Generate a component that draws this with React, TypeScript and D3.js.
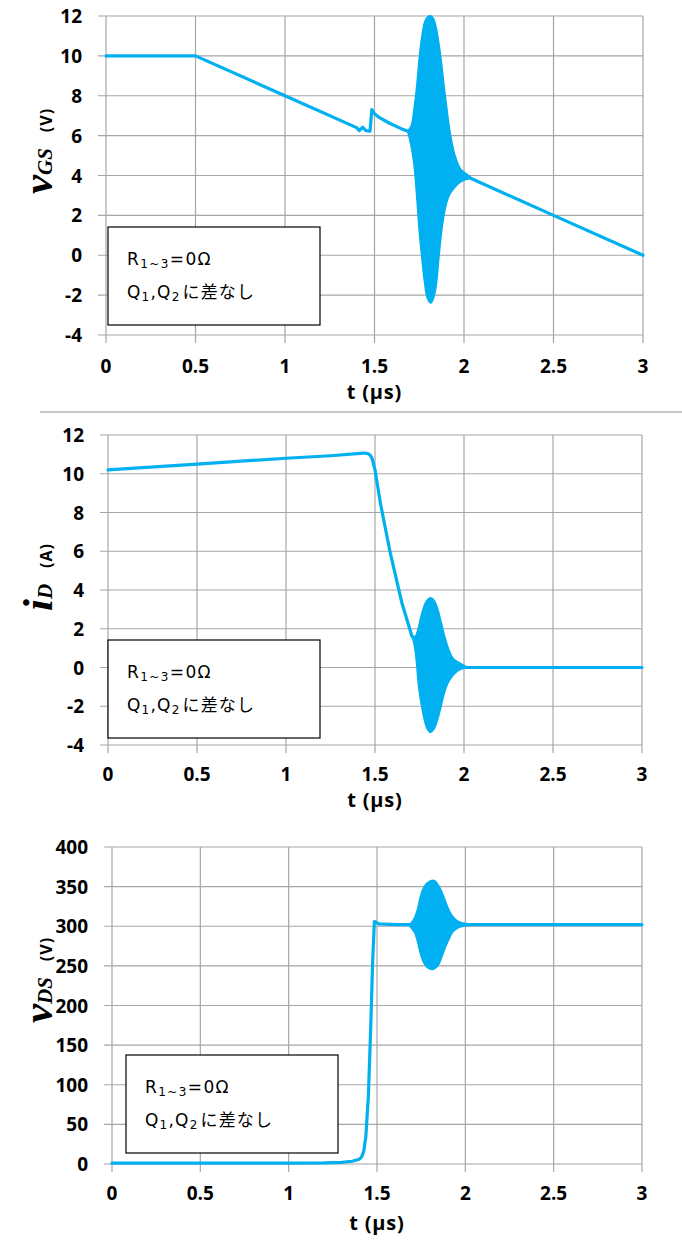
import React from "react";
import * as d3 from "d3";

const BLUE = "#00B0F0";
const GRID = "#A6A6A6";

const T_TICKS = [0, 0.5, 1, 1.5, 2, 2.5, 3];

// vGS panel
const GS_TICKS = [-4, -2, 0, 2, 4, 6, 8, 10, 12];
const GS_T = [0, 0.5, 1.0, 1.4, 1.415, 1.434, 1.452, 1.475, 1.485, 1.5, 1.528, 1.584, 1.649, 1.686, 2.04, 2.5, 3.0];
const GS_V = [10, 10, 8, 6.4, 6.25, 6.42, 6.25, 6.22, 7.3, 7.1, 6.9, 6.62, 6.35, 6.22, 3.85, 2.0, 0];
const GS_BURST_T = [1.686, 1.705, 1.72, 1.737, 1.75, 1.765, 1.78, 1.795, 1.815, 1.83, 1.845, 1.86, 1.875, 1.89, 1.905, 1.92, 1.935, 1.95, 1.97, 1.99, 2.01, 2.04];
const GS_BURST_HI = [6.25, 6.5, 7.3, 8.6, 9.9, 11.0, 11.7, 11.95, 12.0, 11.85, 11.4, 10.6, 9.6, 8.4, 7.3, 6.3, 5.55, 5.0, 4.5, 4.2, 4.0, 3.85];
const GS_BURST_LO = [6.2, 5.45, 4.6, 2.8, 1.2, -0.2, -1.4, -2.15, -2.4, -2.15, -1.5, -0.1, 1.2, 2.1, 2.7, 3.05, 3.25, 3.42, 3.6, 3.72, 3.8, 3.85];

// iD panel
const ID_TICKS = [-4, -2, 0, 2, 4, 6, 8, 10, 12];
const ID_T = [0, 0.5, 1.0, 1.25, 1.417, 1.44, 1.46, 1.474, 1.485, 1.5, 1.53, 1.586, 1.652, 1.708, 2.01, 3.0];
const ID_V = [10.2, 10.5, 10.8, 10.93, 11.05, 11.07, 11.04, 10.95, 10.75, 10.2, 8.5, 5.9, 3.3, 1.6, 0, 0];
const ID_BURST_T = [1.708, 1.72, 1.732, 1.745, 1.76, 1.775, 1.79, 1.81, 1.83, 1.85, 1.87, 1.89, 1.91, 1.93, 1.95, 1.97, 1.99, 2.01];
const ID_BURST_HI = [1.6, 1.55, 1.7, 2.1, 2.7, 3.15, 3.45, 3.6, 3.5, 3.1, 2.4, 1.65, 1.05, 0.6, 0.35, 0.18, 0.08, 0.03];
const ID_BURST_LO = [1.6, 1.2, 0.35, -1.0, -1.9, -2.6, -3.1, -3.35, -3.2, -2.75, -2.05, -1.3, -0.8, -0.5, -0.3, -0.15, -0.07, -0.03];

// vDS panel
const DS_TICKS = [0, 50, 100, 150, 200, 250, 300, 350, 400];
const DS_T = [0, 0.5, 1.0, 1.2, 1.3, 1.36, 1.4, 1.413, 1.425, 1.437, 1.451, 1.464, 1.475, 1.485, 1.51, 1.61, 1.686, 2.06, 3.0];
const DS_V = [1, 1, 1, 1.3, 2, 3.5, 6, 9, 16, 35, 85, 169, 253, 306, 303, 302, 302, 302, 302];
const DS_BURST_T = [1.686, 1.7, 1.715, 1.73, 1.745, 1.76, 1.78, 1.8, 1.815, 1.83, 1.85, 1.87, 1.89, 1.91, 1.93, 1.96, 1.99, 2.02, 2.06];
const DS_BURST_HI = [302, 306, 312, 322, 337, 347, 354, 357, 358, 357, 351, 342, 330, 319, 312, 306, 304, 303, 302];
const DS_BURST_LO = [300, 296, 291, 280, 266, 256, 249, 246, 245.5, 247, 252, 263, 275, 285, 293, 298, 300, 301, 301.5];

const TICK_FONT = "Open Sans, DejaVu Sans, sans-serif";
const SERIF = "Liberation Serif, serif";
const LEGEND_FONT = "DejaVu Sans, Noto Sans CJK JP, sans-serif";

type PanelProps = {
  left: number;
  right: number;
  top: number;
  bottom: number;
  yDomain: [number, number];
  yTicks: number[];
  t: number[];
  v: number[];
  burstT: number[];
  burstHi: number[];
  burstLo: number[];
  legend: { x: number; y: number };
  tickDy: number;
  titleDy: number;
  label: React.ReactNode;
};

function Legend({ x, y }: { x: number; y: number }) {
  return (
    <g transform={`translate(${x},${y})`}>
      <rect width={212} height={98} fill="#fff" stroke="#000" strokeWidth={1.2} />
      <text x={19} y={38} fontFamily={LEGEND_FONT} fontSize={17} letterSpacing={1.4} fill="#000">
        R<tspan fontSize={12} dy={3}>1~3</tspan>
        <tspan dy={-3}>=0Ω</tspan>
      </text>
      <text x={19} y={71} fontFamily={LEGEND_FONT} fontSize={17} letterSpacing={1.2} fill="#000">
        Q<tspan fontSize={12} dy={3}>1</tspan>
        <tspan dy={-3}>,Q</tspan>
        <tspan fontSize={12} dy={3}>2</tspan>
        <tspan dy={-3} dx={2}>に差なし</tspan>
      </text>
    </g>
  );
}

function Panel(p: PanelProps) {
  const x = d3.scaleLinear().domain([0, 3]).range([p.left, p.right]);
  const y = d3.scaleLinear().domain(p.yDomain).range([p.bottom, p.top]);
  const pts = p.t.map((t, i) => [t, p.v[i]] as [number, number]);
  const line = d3
    .line<[number, number]>()
    .x((d) => x(d[0]))
    .y((d) => y(d[1]));
  const burst = p.burstT.map((t, i) => ({ t, hi: p.burstHi[i], lo: p.burstLo[i] }));
  const area = d3
    .area<{ t: number; hi: number; lo: number }>()
    .x((d) => x(d.t))
    .y0((d) => y(d.lo))
    .y1((d) => y(d.hi))
    .curve(d3.curveCatmullRom);

  return (
    <g>
      {/* grid */}
      {T_TICKS.map((t) => (
        <line key={"v" + t} x1={x(t)} x2={x(t)} y1={p.top} y2={p.bottom + 8} stroke={GRID} strokeWidth={1.2} />
      ))}
      {p.yTicks.map((v) => (
        <line key={"h" + v} x1={p.left - 8} x2={p.right} y1={y(v)} y2={y(v)} stroke={GRID} strokeWidth={1.2} />
      ))}
      {/* tick labels */}
      {p.yTicks.map((v) => (
        <text
          key={"yl" + v}
          x={p.left - 24}
          y={y(v) + 7}
          textAnchor="end"
          fontFamily={TICK_FONT}
          fontWeight="bold"
          fontSize={19}
          fill="#000"
        >
          {v}
        </text>
      ))}
      {T_TICKS.map((t) => (
        <text
          key={"xl" + t}
          x={x(t)}
          y={p.bottom + p.tickDy}
          textAnchor="middle"
          fontFamily={TICK_FONT}
          fontWeight="bold"
          fontSize={19}
          fill="#000"
        >
          {t}
        </text>
      ))}
      <text
        x={x(1.5)}
        y={p.bottom + p.titleDy}
        textAnchor="middle"
        fontFamily={TICK_FONT}
        fontWeight="bold"
        fontSize={20}
        letterSpacing={0.8}
        fill="#000"
      >
        t (μs)
      </text>
      {p.label}
      <Legend x={p.legend.x} y={p.legend.y} />
      {/* data */}
      <path d={line(pts) ?? ""} fill="none" stroke={BLUE} strokeWidth={3.2} strokeLinejoin="round" strokeLinecap="round" />
      <path d={area(burst) ?? ""} fill={BLUE} stroke={BLUE} strokeWidth={1.5} />
    </g>
  );
}

function YLabel({ x, y, main, sub, unit }: { x: number; y: number; main: string; sub: string; unit: string }) {
  return (
    <text transform={`translate(${x},${y}) rotate(-90)`} textAnchor="middle" fill="#000">
      <tspan fontFamily={SERIF} fontStyle="italic" fontWeight="bold" fontSize={43}>
        {main}
      </tspan>
      <tspan fontFamily={SERIF} fontStyle="italic" fontWeight="bold" fontSize={21}>
        {sub}
      </tspan>
      <tspan fontFamily={TICK_FONT} fontWeight="bold" fontSize={16} dx={16} letterSpacing={1}>
        {unit}
      </tspan>
    </text>
  );
}

export default function App() {
  return (
    <svg
      width={682}
      height={1242}
      style={{ position: "absolute", left: 0, top: 0, background: "#fff" }}
    >
      <rect width={682} height={1242} fill="#fff" />
      <Panel
        left={106}
        right={643}
        top={16}
        bottom={335}
        yDomain={[-4, 12]}
        yTicks={GS_TICKS}
        t={GS_T}
        v={GS_V}
        burstT={GS_BURST_T}
        burstHi={GS_BURST_HI}
        burstLo={GS_BURST_LO}
        legend={{ x: 108, y: 227 }}
        tickDy={38}
        titleDy={64}
        label={<YLabel x={52} y={151} main="v" sub="GS" unit="(V)" />}
      />
      <line x1={40} x2={682} y1={412} y2={412} stroke="#C8C8C8" strokeWidth={2} />
      <Panel
        left={108}
        right={642}
        top={435}
        bottom={745}
        yDomain={[-4, 12]}
        yTicks={ID_TICKS}
        t={ID_T}
        v={ID_V}
        burstT={ID_BURST_T}
        burstHi={ID_BURST_HI}
        burstLo={ID_BURST_LO}
        legend={{ x: 108, y: 640 }}
        tickDy={36}
        titleDy={62}
        label={<YLabel x={52} y={577} main="i" sub="D" unit="(A)" />}
      />
      <Panel
        left={112}
        right={642}
        top={847}
        bottom={1164}
        yDomain={[0, 400]}
        yTicks={DS_TICKS}
        t={DS_T}
        v={DS_V}
        burstT={DS_BURST_T}
        burstHi={DS_BURST_HI}
        burstLo={DS_BURST_LO}
        legend={{ x: 126, y: 1055 }}
        tickDy={36}
        titleDy={66}
        label={<YLabel x={52} y={980} main="v" sub="DS" unit="(V)" />}
      />
    </svg>
  );
}
